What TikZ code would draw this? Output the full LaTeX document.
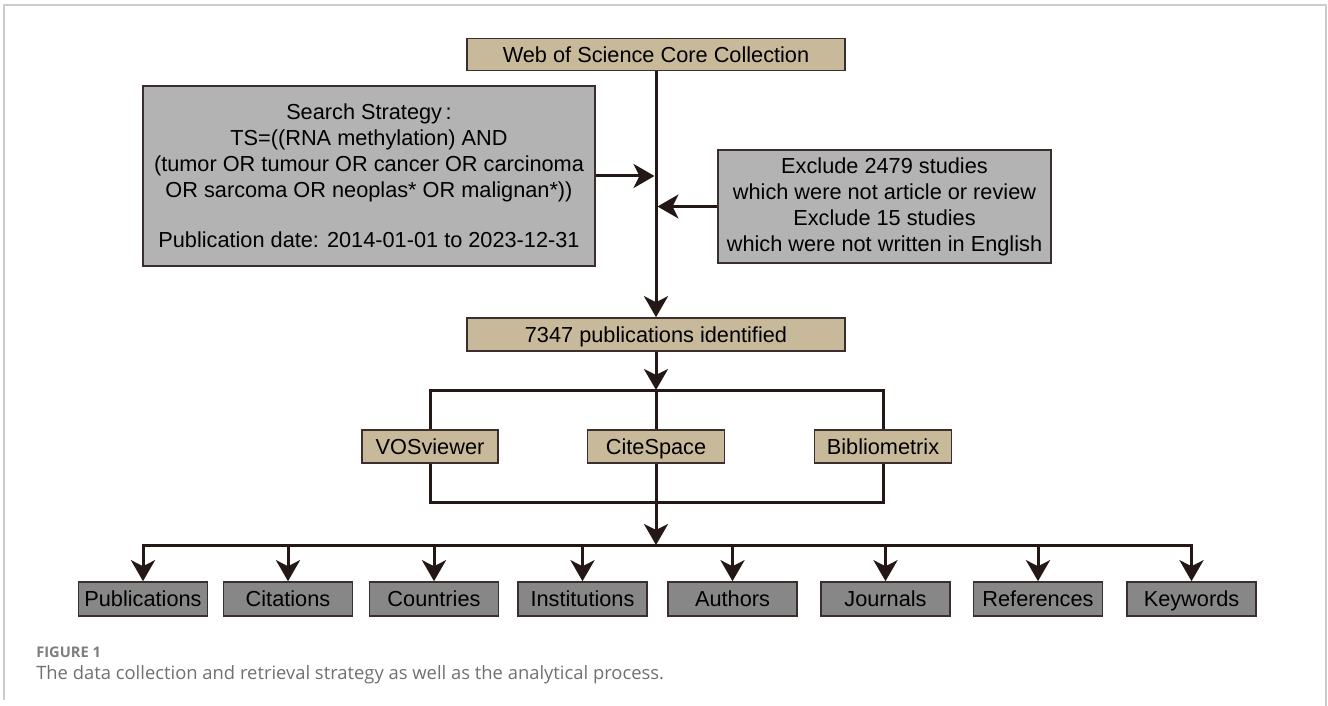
\documentclass[tikz,border=0pt]{standalone}
\usepackage{fontspec}
\setmainfont{Liberation Sans}
\newfontfamily\capfont{Open Sans}
\usetikzlibrary{arrows.meta,calc}
\definecolor{tanfill}{HTML}{C8B99A}
\definecolor{lgfill}{HTML}{B3B3B3}
\definecolor{dgfill}{HTML}{878787}
\definecolor{bordercol}{HTML}{3B2F2D}
\definecolor{linecol}{HTML}{231815}
\definecolor{framecol}{HTML}{CCCCCC}
\definecolor{capcol}{HTML}{707070}
\definecolor{figcol}{HTML}{7E7E7E}
\tikzset{
  boxbase/.style={draw=bordercol, line width=1.2pt, inner sep=0pt, align=center,
    font=\fontsize{16.3}{19.5}\selectfont},
  oneline/.style={text height=11.7pt, text depth=0pt},
  tanbox/.style={boxbase, fill=tanfill},
  graybox/.style={boxbase, fill=lgfill},
  outbox/.style={boxbase, oneline, fill=dgfill, minimum width=96.75pt, minimum height=25.5pt},
  conn/.style={draw=linecol, line width=2.25pt, line join=miter},
  arr/.style={conn, -{Stealth[length=15.75pt, width=18pt, inset=4.5pt]}}
}
\begin{document}
\begin{tikzpicture}[x=0.75pt, y=-0.75pt]
\useasboundingbox (0,0) rectangle (1328,706);
% frame
\draw[framecol, line width=1.1pt] (4,700) -- (4,5) -- (1326,5) -- (1326,706);

% nodes
\node[tanbox, oneline, minimum width=283.5pt, minimum height=24pt] (web) at (656,54.5) {Web of Science Core Collection};
\node[graybox, minimum width=339pt, minimum height=135pt] (search) at (369,176)
  {Search Strategy\,:\\
   TS=((RNA methylation) AND\\
   (tumor OR tumour OR cancer OR carcinoma\\
   OR sarcoma OR neoplas* OR malignan*))\\[18pt]
   Publication date: 2014-01-01 to 2023-12-31};
\node[graybox, minimum width=249.75pt, minimum height=84.75pt] (excl) at (884.5,206.5)
  {Exclude 2479 studies\\
   which were not article or review\\
   Exclude 15 studies\\
   which were not written in English};
\node[tanbox, oneline, minimum width=283.5pt, minimum height=24.75pt] (pub) at (656,334.5) {7347 publications identified};
\node[tanbox, oneline, minimum width=102pt, minimum height=24.75pt] (vos) at (430,446.5) {VOSviewer};
\node[tanbox, oneline, minimum width=102.75pt, minimum height=24.75pt] (cite) at (656,446.5) {CiteSpace};
\node[tanbox, oneline, minimum width=102.75pt, minimum height=24.75pt] (bib) at (883,446.5) {Bibliometrix};

\node[outbox] (o1) at (143,599) {Publications};
\node[outbox] (o2) at (288,599) {Citations};
\node[outbox] (o3) at (434,599) {Countries};
\node[outbox] (o4) at (582.5,599) {Institutions};
\node[outbox] (o5) at (732.5,599) {Authors};
\node[outbox] (o6) at (885.5,599) {Journals};
\node[outbox] (o7) at (1038,599) {References};
\node[outbox] (o8) at (1191.5,599) {Keywords};

\coordinate (j1) at (656,390);
\coordinate (j2) at (656,502);
\coordinate (j3) at (656,545);

% connectors
\draw[arr] (web) -- (pub);
\draw[arr] (search.east) -- ($(search.east -| web.south)+(-1.5,0)$);
\draw[arr] (excl.west) -- ($(excl.west -| web.south)+(1.5,0)$);
\draw[arr] (pub) -- (j1);
\draw[conn] (vos.north) |- (j1) -| (bib.north);
\draw[conn] (j1) -- (cite);
\draw[conn] (vos.south) |- (j2) -| (bib.south);
\draw[conn] (cite) -- (j2);
\draw[arr] (j2) -- (j3);
\foreach \o in {o1,o2,o3,o4,o5,o6,o7,o8}{
  \draw[arr] (j3) -| (\o);
}

% caption
\node[anchor=base west, inner sep=0pt, text=figcol, font=\capfont\bfseries\fontsize{11}{13}\selectfont] (fig) at (36,657) {FIGURE 1};
\node[anchor=base west, inner sep=0pt, text=capcol, font=\capfont\fontsize{13.8}{16}\selectfont] (cap) at (36,679) {The data collection and retrieval strategy as well as the analytical process.};
\end{tikzpicture}
\end{document}
